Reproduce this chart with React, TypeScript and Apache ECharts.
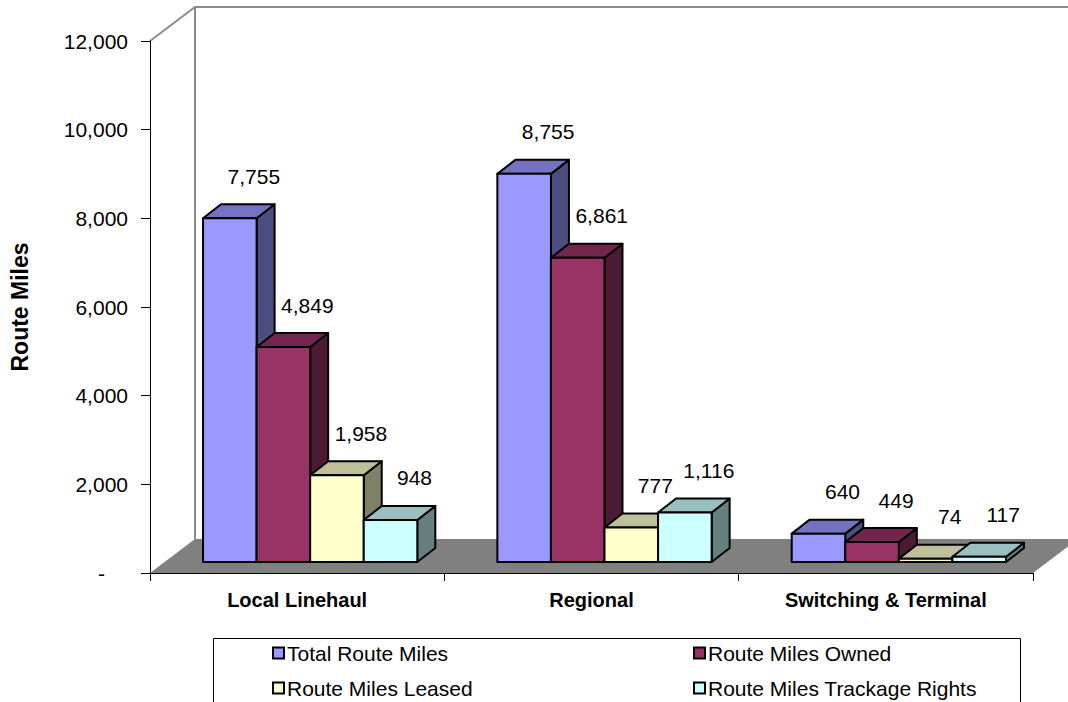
import React, { useEffect, useRef } from 'react';
import * as echarts from 'echarts';

// ---- data ----
const categories = ['Local Linehaul', 'Regional', 'Switching & Terminal'];
const seriesNames = [
  'Total Route Miles',
  'Route Miles Owned',
  'Route Miles Leased',
  'Route Miles Trackage Rights',
];
const totalRouteMiles = [7755, 8755, 640];
const routeMilesOwned = [4849, 6861, 449];
const routeMilesLeased = [1958, 777, 74];
const routeMilesTrackageRights = [948, 1116, 117];
const yMin = 0;
const yMax = 12000;
const yStep = 2000;

const seriesValues = [totalRouteMiles, routeMilesOwned, routeMilesLeased, routeMilesTrackageRights];

// ---- styling ----
const FONT = '"Liberation Sans", Arial, Helvetica, sans-serif';
const faces = [
  { front: '#9999FF', top: '#7373BF', side: '#4D4D80' },
  { front: '#993366', top: '#73264D', side: '#4D1A33' },
  { front: '#FFFFCC', top: '#BFBF99', side: '#808066' },
  { front: '#CCFFFF', top: '#99BFBF', side: '#668080' },
];

// 3D projection offsets (pixels)
const WALL_DX = 45;
const WALL_DY = -34;
const PLANE_DX = 13;
const PLANE_DY = -11;
const BAR_DX = 18;
const BAR_DY = -14;
const BAR_FRACTION = 0.182;

const fmt = (v: number) => v.toLocaleString('en-US');

function barRenderer(k: number) {
  return (params: any, api: any) => {
    const cat = api.value(0);
    const v = api.value(1);
    const band = api.size([1, 0])[0];
    const c0 = api.coord([cat, 0]);
    const c1 = api.coord([cat, v]);
    const w = band * BAR_FRACTION;
    const gap = band - 4 * w;
    const x0 = c0[0] - band / 2 + gap / 2 + PLANE_DX + k * w;
    const x1 = x0 + w;
    const yb = c0[1] + PLANE_DY;
    const yt = c1[1] + PLANE_DY;
    const f = faces[k];
    const edge = { stroke: '#000', lineWidth: 2, lineJoin: 'round' };
    return {
      type: 'group',
      children: [
        {
          type: 'polygon',
          shape: { points: [[x1, yt], [x1 + BAR_DX, yt + BAR_DY], [x1 + BAR_DX, yb + BAR_DY], [x1, yb]] },
          style: { fill: f.side, ...edge },
        },
        {
          type: 'polygon',
          shape: { points: [[x0, yt], [x0 + BAR_DX, yt + BAR_DY], [x1 + BAR_DX, yt + BAR_DY], [x1, yt]] },
          style: { fill: f.top, ...edge },
        },
        {
          type: 'rect',
          shape: { x: x0, y: yt, width: w, height: yb - yt },
          style: { fill: f.front, ...edge },
        },
        {
          type: 'text',
          x: x0 + w / 2 + 24,
          y: yt - 42,
          style: {
            text: fmt(v),
            fill: '#000',
            font: `21px ${FONT}`,
            align: 'center',
            verticalAlign: 'middle',
          },
        },
      ],
    };
  };
}

function frameRenderer(params: any, api: any) {
  const band = api.size([1, 0])[0];
  const left = api.coord([0, yMin])[0] - band / 2;
  const right = api.coord([categories.length - 1, yMin])[0] + band / 2;
  const yBase = api.coord([0, yMin])[1];
  const yTop = api.coord([0, yMax])[1];
  const wallStroke = { stroke: '#8C8C8C', lineWidth: 2, fill: 'none' };
  return {
    type: 'group',
    children: [
      {
        type: 'polygon',
        shape: {
          points: [
            [left, yBase],
            [right, yBase],
            [right + WALL_DX, yBase + WALL_DY],
            [left + WALL_DX, yBase + WALL_DY],
          ],
        },
        style: { fill: '#808080' },
      },
      {
        type: 'polyline',
        shape: {
          points: [
            [left, yTop],
            [left + WALL_DX, yTop + WALL_DY],
            [right + WALL_DX, yTop + WALL_DY],
          ],
        },
        style: wallStroke,
      },
      {
        type: 'line',
        shape: { x1: left + WALL_DX, y1: yTop + WALL_DY, x2: left + WALL_DX, y2: yBase + WALL_DY },
        style: wallStroke,
      },
    ],
  };
}

// one legend column holding the given series
function legendColumn(left: number, idx: number[]) {
  return {
    left,
    top: 641,
    height: 60,
    padding: 0,
    orient: 'vertical',
    icon: 'rect',
    itemWidth: 11,
    itemHeight: 11,
    itemGap: 11,
    selectedMode: false,
    data: idx.map((k) => ({
      name: seriesNames[k],
      itemStyle: { color: faces[k].front, borderColor: '#000', borderWidth: 2 },
    })),
    textStyle: { color: '#000', fontFamily: FONT, fontSize: 21, lineHeight: 24, padding: [0, 0, 0, -2] },
  };
}

export default function App() {
  const ref = useRef<HTMLDivElement>(null);

  useEffect(() => {
    if (!ref.current) return;
    const chart = echarts.init(ref.current, undefined, { renderer: 'svg' });

    const barSeries = seriesNames.map((name, k) => ({
      type: 'custom',
      name,
      z: 10 + k,
      renderItem: barRenderer(k),
      encode: { x: 0, y: 1 },
      itemStyle: { color: faces[k].front },
      data: seriesValues[k].map((v, i) => [i, v]),
    }));

    chart.setOption({
      animation: false,
      backgroundColor: '#fff',
      grid: { left: 150, top: 41, right: 35, bottom: 129, containLabel: false },
      xAxis: {
        type: 'category',
        data: categories,
        z: 5,
        axisLine: { lineStyle: { color: '#000', width: 1 } },
        axisTick: { show: true, length: 8, interval: 0, lineStyle: { color: '#000' } },
        axisLabel: {
          interval: 0,
          margin: 17,
          color: '#000',
          fontFamily: FONT,
          fontSize: 20,
          fontWeight: 'bold',
        },
        splitLine: { show: false },
      },
      yAxis: {
        type: 'value',
        min: yMin,
        max: yMax,
        interval: yStep,
        z: 5,
        name: 'Route Miles',
        nameLocation: 'middle',
        nameRotate: 90,
        nameGap: 119,
        nameTextStyle: { color: '#000', fontFamily: FONT, fontSize: 23, fontWeight: 'bold' },
        axisLine: { show: true, lineStyle: { color: '#000', width: 1 } },
        axisTick: { show: true, length: 9, lineStyle: { color: '#000' } },
        axisLabel: {
          margin: 22,
          color: '#000',
          fontFamily: FONT,
          fontSize: 21,
          formatter: (v: number) => (v === 0 ? '{z|-}' : fmt(v)),
          rich: { z: { padding: [0, 23, 0, 0], fontSize: 21, fontFamily: FONT, color: '#000' } },
        },
        splitLine: { show: false },
      },
      legend: [legendColumn(272, [0, 2]), legendColumn(693, [1, 3])],
      graphic: [
        {
          type: 'rect',
          shape: { x: 213.5, y: 638.5, width: 807, height: 100 },
          style: { fill: 'none', stroke: '#000', lineWidth: 1 },
          silent: true,
        },
      ],
      series: [
        {
          type: 'custom',
          name: 'frame',
          z: 1,
          silent: true,
          renderItem: frameRenderer,
          encode: { x: 0, y: 1 },
          data: [[0, yMin]],
        },
        ...barSeries,
      ],
    });

    return () => chart.dispose();
  }, []);

  return (
    <div
      ref={ref}
      style={{ position: 'fixed', left: 0, top: 0, width: 1068, height: 702, background: '#fff' }}
    />
  );
}
